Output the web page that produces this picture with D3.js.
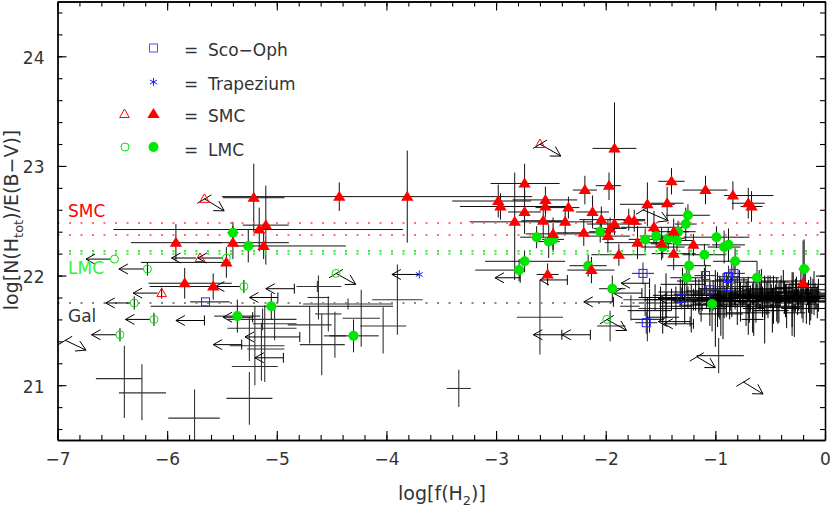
<!DOCTYPE html>
<html><head><meta charset="utf-8">
<script src="https://cdn.jsdelivr.net/npm/d3@7"></script>
<style>body{margin:0;background:#fff}svg{display:block}text{font-family:"DejaVu Sans",sans-serif}</style>
</head><body><svg id="c" width="830" height="511"></svg>
<script>
// ---------- data ----------
const xDomain = [-7, 0];
const yDomain = [20.5, 24.5];
const xTicks = [-7, -6, -5, -4, -3, -2, -1, 0];
const yTicks = [21, 22, 23, 24];
const refSMC = [22.48, 22.37];
const refLMC = [22.225, 22.20];
const refGal = [21.75];

// detections: [x, y, exMinus, exPlus, eyMinus, eyPlus]
const smcDet = [
  [-5.21,22.71,0.28,0.28,0.31,0.31],[-4.43,22.72,0,0,0.13,0.13],[-3.81,22.72,1.69,1.14,0.42,0.42],
  [-5.16,22.42,1.33,1.31,0.20,0.20],[-5.10,22.46,0.21,0.21,0.36,0.36],[-5.12,22.27,0.28,0.75,0.12,0.12],
  [-5.92,22.30,0.41,0.42,0.17,0.17],[-5.40,22.30,0.31,0.51,0.15,0.15],[-5.46,22.12,0.78,0.04,0.14,0.14],
  [-5.84,21.93,0.33,0.43,0.14,0.14],[-5.58,21.90,0.58,0.16,0.12,0.12],
  [-1.92,23.16,0.20,0.20,0.71,0.42],[-1.97,22.82,0.12,0.11,0.13,0.12],[-2.19,22.78,0.11,0.11,0.13,0.13],
  [-2.74,22.84,0.31,0.32,0.16,0.18],[-2.98,22.68,0.42,0.30,0.15,0.15],[-2.96,22.63,0.37,0.28,0.12,0.12],
  [-2.55,22.69,0.30,0.29,0.12,0.12],[-2.55,22.63,0.20,0.20,0.10,0.10],[-2.34,22.62,0.30,0.10,0.10,0.10],
  [-2.74,22.58,0.15,0.15,0.20,0.20],[-2.83,22.49,0.41,0.43,0.53,0.45],[-2.57,22.50,0.20,0.20,0.15,0.15],
  [-2.37,22.49,0.25,0.25,0.12,0.12],[-2.12,22.58,0.15,0.15,0.15,0.15],[-2.04,22.51,0.20,0.20,0.12,0.12],
  [-1.92,22.47,0.25,0.25,0.10,0.10],[-1.79,22.51,0.15,0.15,0.10,0.10],[-1.74,22.50,0.10,0.10,0.10,0.10],
  [-1.62,22.65,0.25,0.25,0.20,0.20],[-1.56,22.44,0.30,0.30,0.15,0.15],[-2.48,22.38,0.25,0.25,0.15,0.15],
  [-2.20,22.39,0.25,0.25,0.12,0.12],[-1.98,22.36,0.20,0.20,0.15,0.15],[-1.96,22.43,0.15,0.15,0.10,0.10],
  [-1.71,22.30,0.30,0.30,0.15,0.15],[-1.88,22.19,0.25,0.25,0.10,0.10],[-2.53,22.01,0.10,0.10,0.10,0.10],
  [-2.13,22.05,0.22,0.21,0.12,0.12],[-1.40,22.86,0.12,0.12,0.12,0.12],[-1.09,22.78,0.21,0.20,0.13,0.13],
  [-0.84,22.73,0.08,0.37,0.13,0.13],[-0.70,22.66,0.15,0.15,0.14,0.14],[-0.67,22.63,0.10,0.10,0.14,0.14],
  [-1.44,22.66,0.15,0.15,0.15,0.15],[-1.38,22.40,0.20,0.20,0.12,0.12],[-1.49,22.29,0.10,0.10,0.15,0.15],
  [-1.20,22.28,0.15,0.15,0.10,0.10],[-1.38,22.20,0.20,0.20,0.15,0.15],[-0.20,21.93,0.05,0.05,0.36,0.39]
];
const lmcDet = [
  [-5.40,22.39,0.05,0.05,0.10,0.10],[-5.26,22.27,0.05,0.05,0.15,0.15],[-5.05,21.72,1.10,1.11,0.12,0.12],
  [-5.36,21.63,0.21,0.21,0.15,0.15],[-4.30,21.45,0.22,0.23,0.15,0.15],[-2.48,22.33,0.10,0.10,0.10,0.10],
  [-2.63,22.35,0.15,0.15,0.10,0.10],[-2.52,22.31,0.10,0.10,0.15,0.15],[-2.74,22.13,0.36,0.37,0.10,0.10],
  [-2.79,22.05,0.40,0.05,0.10,0.10],[-2.16,22.09,0.17,0.17,0.10,0.10],[-2.05,22.40,0.10,0.10,0.10,0.10],
  [-1.64,22.33,0.15,0.15,0.10,0.10],[-1.54,22.36,0.15,0.15,0.10,0.10],[-1.25,22.55,0.20,0.20,0.10,0.10],
  [-1.27,22.47,0.10,0.10,0.15,0.15],[-1.43,22.34,0.15,0.15,0.10,0.10],[-1.35,22.32,0.15,0.15,0.10,0.10],
  [-1.34,22.40,0.10,0.10,0.10,0.10],[-1.48,22.26,0.20,0.20,0.10,0.10],[-0.99,22.35,0.30,0.30,0.10,0.10],
  [-0.92,22.26,0.15,0.15,0.15,0.15],[-0.88,22.28,0.15,0.15,0.15,0.15],[-1.10,22.19,0.20,0.20,0.10,0.10],
  [-1.24,22.09,0.20,0.20,0.15,0.15],[-0.82,22.13,0.20,0.20,0.12,0.12],[-1.26,21.98,0.15,0.15,0.15,0.15],
  [-0.62,21.98,0.20,0.20,0.15,0.15],[-0.19,22.06,0.05,0.05,0.10,0.27],[-1.03,21.74,0.15,0.15,0.25,0.10],
  [-1.94,21.88,0.12,0.12,0.12,0.12]
];
const scoOph = [
  [-5.65,21.76,0.14,0.22,0,0],[-1.66,22.02,0.10,0.10,0.10,0.10],[-1.63,21.57,0.10,0.10,0.10,0.10],
  [-1.31,21.79,0.15,0.15,0.10,0.10],[-1.09,22.00,0.10,0.10,0.10,0.10],[-0.83,22.02,0.10,0.10,0.10,0.10],
  [-0.88,21.99,0.10,0.10,0.10,0.10],[-1.05,21.87,0.10,0.10,0.10,0.10],[-0.89,21.90,0.10,0.10,0.10,0.10]
];
const galDet = [
  [-6.39,21.06,0.26,0.16,0.36,0.30],[-6.23,20.93,0.21,0.22,0.25,0.26],[-5.75,20.70,0.24,0.23,0.25,0.26],
  [-5.25,20.88,0.21,0.21,0.24,0.24],[-3.90,21.78,0.23,0.23,0.32,0.32],[-4.23,21.61,0.17,0.17,0.26,0.26],
  [-4.03,21.54,0.21,0.21,0.25,0.17],[-4.70,21.55,0.20,0.20,0.17,0.17],[-4.59,21.37,0.20,0.21,0.28,0.28],
  [-4.47,21.45,0.10,0.10,0.20,0.22],[-4.62,21.80,0.10,0.10,0.20,0.20],[-4.53,21.65,0.12,0.12,0.16,0.16],
  [-5.13,21.60,0.32,0.31,0.10,0.10],[-5.25,21.52,0.20,0.43,0.30,0.10],[-5.20,21.36,0.23,0.27,0.36,0.36],
  [-5.11,21.33,0.16,0.18,0.30,0.40],[-5.14,21.17,0.27,0.15,0.13,0.40],[-5.02,21.56,0.20,0.20,0.15,0.15],
  [-4.35,21.74,0.41,0.41,0.05,0.05],[-4.63,21.90,0.19,0.22,0.05,0.05],[-3.34,20.97,0.11,0.11,0.17,0.17],
  [-2.60,21.62,0.21,0.21,0.34,0.34],[-1.77,21.72,0.10,0.08,0.13,0.10],[-1.96,21.54,0.12,0.14,0.14,0.14],
  [-0.97,21.27,0.20,0.23,0.16,0.16],[-1.64,21.78,0.20,0.30,0.15,0.15],[-1.62,21.60,0.15,0.15,0.20,0.20],
  [-1.45,21.70,0.25,0.25,0.15,0.15]
];
// dense Galactic cluster: [x, y, ex, ey]
const galCluster = [
  [-1.55,21.80,0.15,0.12],[-1.50,21.75,0.2,0.15],[-1.45,21.82,0.12,0.2],[-1.40,21.78,0.25,0.1],
  [-1.36,21.72,0.15,0.18],[-1.32,21.85,0.2,0.12],[-1.28,21.76,0.1,0.2],[-1.25,21.80,0.3,0.1],
  [-1.22,21.70,0.15,0.22],[-1.18,21.83,0.2,0.15],[-1.15,21.77,0.25,0.12],[-1.12,21.86,0.15,0.18],
  [-1.08,21.80,0.3,0.1],[-1.05,21.74,0.1,0.2],[-1.02,21.82,0.2,0.14],[-0.98,21.78,0.15,0.25],
  [-0.95,21.88,0.2,0.1],[-0.92,21.76,0.3,0.15],[-0.90,21.82,0.12,0.2],[-0.87,21.72,0.2,0.12],
  [-0.85,21.80,0.25,0.18],[-0.82,21.85,0.15,0.12],[-0.80,21.77,0.2,0.22],[-0.78,21.90,0.1,0.15],
  [-0.75,21.81,0.3,0.1],[-0.72,21.74,0.15,0.2],[-0.70,21.84,0.2,0.15],[-0.68,21.79,0.25,0.12],
  [-0.65,21.70,0.1,0.25],[-0.62,21.82,0.2,0.1],[-0.60,21.87,0.15,0.18],[-0.57,21.76,0.25,0.14],
  [-0.55,21.80,0.3,0.2],[-0.52,21.73,0.12,0.12],[-0.50,21.85,0.2,0.15],[-0.47,21.78,0.15,0.22],
  [-0.45,21.82,0.25,0.1],[-0.42,21.75,0.2,0.18],[-0.40,21.88,0.1,0.12],[-0.37,21.80,0.3,0.15],
  [-0.35,21.72,0.15,0.2],[-0.32,21.84,0.2,0.1],[-0.30,21.78,0.25,0.25],[-0.27,21.82,0.12,0.15],
  [-0.25,21.76,0.2,0.12],[-0.22,21.86,0.15,0.2],[-0.20,21.79,0.3,0.1],[-0.17,21.74,0.1,0.18],
  [-0.15,21.81,0.2,0.15],[-0.12,21.77,0.15,0.12],[-0.10,21.84,0.1,0.2],[-0.08,21.79,0.12,0.1],
  [-0.06,21.82,0.08,0.15],[-1.60,21.68,0.2,0.2],[-1.48,21.62,0.15,0.15],[-1.30,21.92,0.2,0.15],
  [-1.10,21.95,0.25,0.12],[-0.95,21.65,0.2,0.2],[-0.85,21.96,0.15,0.15],[-0.70,21.66,0.2,0.2],
  [-0.58,21.94,0.25,0.12],[-0.48,21.68,0.15,0.2],[-0.38,21.95,0.2,0.1],[-0.28,21.66,0.1,0.22],
  [-0.18,21.92,0.2,0.15],[-0.66,21.60,0.1,0.12],[-1.00,21.70,0.1,0.35],[-0.93,21.72,0.1,0.3],
  [-0.55,21.68,0.1,0.3],[-0.30,21.70,0.1,0.25],
  [-1.20,21.78,0.25,0.1],[-1.15,21.82,0.2,0.15],[-1.05,21.79,0.3,0.12],[-1.00,21.84,0.2,0.1],
  [-0.96,21.80,0.25,0.2],[-0.90,21.77,0.3,0.12],[-0.86,21.83,0.2,0.15],[-0.82,21.79,0.25,0.1],
  [-0.77,21.76,0.2,0.18],[-0.74,21.86,0.3,0.12],[-0.71,21.80,0.2,0.15],[-0.66,21.83,0.25,0.1],
  [-0.63,21.77,0.3,0.2],[-0.59,21.81,0.2,0.12],[-0.53,21.79,0.25,0.15],[-0.49,21.82,0.3,0.1],
  [-0.44,21.78,0.2,0.2],[-0.41,21.84,0.25,0.12],[-0.36,21.77,0.3,0.15],[-0.33,21.81,0.2,0.1],
  [-0.29,21.85,0.25,0.18],[-0.24,21.80,0.2,0.12],[-0.21,21.76,0.25,0.15],[-0.16,21.83,0.2,0.1],
  [-0.13,21.79,0.15,0.2],[-0.09,21.81,0.12,0.12],[-0.07,21.76,0.1,0.15],[-0.11,21.87,0.12,0.1],
  [-0.26,21.89,0.2,0.1],[-0.52,21.88,0.2,0.12],[-0.69,21.72,0.2,0.15],[-0.97,21.74,0.25,0.12],
  [-1.13,21.73,0.2,0.15],[-0.43,21.71,0.2,0.15],[-0.14,21.70,0.15,0.15]
];
// limits pointing left: [x, y, length, eyBar]
const lmcLimLeft = [[-6.48,22.15,0.26,0],[-6.18,22.06,0.26,0.06],[-6.30,21.75,0.26,0.06],[-6.12,21.60,0.26,0.06],
  [-6.43,21.46,0.26,0.06],[-5.30,21.90,0.26,0.06],[-5.46,22.16,0.26,0]];
const smcLimLeft = [[-5.70,22.16,0.26,0],[-6.05,21.84,0.26,0.05]];
const galLimLeft = [[-4.79,21.44,0.50],[-4.94,21.25,0.26],[-5.32,21.37,0.26],[-5.66,21.59,0.26],[-5.22,21.62,0.27],
  [-4.84,21.88,0.26],[-4.99,21.80,0.26],[-2.35,21.96,0.25],[-2.40,21.46,0.26],[-2.14,21.46,0.26],[-2.78,21.98,0.23],
  [-1.93,21.76,0.27],[-1.60,21.93,0.26],[-1.67,21.84,0.26],[-1.23,21.58,0.29],[-1.20,21.56,0.27],[-1.28,21.79,0.24]];
const trapezium = [[-3.70,22.01,0.25]];
// diagonal limits: [x, y, dx, dy]
const smcLimDiag = [[-5.66,22.70,0.18,-0.11],[-2.60,23.20,0.19,-0.11]];
const lmcLimDiag = [[-4.46,22.02,0.18,-0.10],[-1.99,21.60,0.18,-0.10]];
const galLimDiag = [[-1.66,22.60,0.23,-0.10],[-1.17,21.26,0.17,-0.10],[-0.745,21.03,0.18,-0.11],[-6.93,21.41,0.19,-0.09]];

// ---------- drawing ----------
const RED = "#ff0000", GREEN = "#00e600", BLUE = "#2020ff", TXT = "#333";
const svg = d3.select("#c");
const X = d3.scaleLinear().domain(xDomain).range([57.5, 825]);
const Y = d3.scaleLinear().domain(yDomain).range([440, 1.5]);

svg.append("clipPath").attr("id", "clip").append("rect")
  .attr("x", X(-7)).attr("y", Y(24.5)).attr("width", X(0) - X(-7)).attr("height", Y(20.5) - Y(24.5));
const plot = svg.append("g").attr("clip-path", "url(#clip)");

function errBars(g, data, color, w) {
  const gg = g.append("g").attr("stroke", color).attr("stroke-width", w).attr("fill", "none");
  gg.selectAll("line.h").data(data.filter(d => d[2] || d[3])).join("line")
    .attr("x1", d => X(d[0] - d[2])).attr("x2", d => X(d[0] + d[3]))
    .attr("y1", d => Y(d[1])).attr("y2", d => Y(d[1]));
  gg.selectAll("line.v").data(data.filter(d => d[4] || d[5])).join("line")
    .attr("x1", d => X(d[0])).attr("x2", d => X(d[0]))
    .attr("y1", d => Y(d[1] - d[4])).attr("y2", d => Y(d[1] + d[5]));
}
function leftArrows(g, data, gap, bar) {
  const gg = g.append("g").attr("stroke", "#000").attr("stroke-width", 1).attr("fill", "none");
  data.forEach(d => {
    const x0 = X(d[0]) - gap, x1 = X(d[0] - d[2]), yy = Y(d[1]);
    gg.append("line").attr("x1", x0).attr("x2", x1).attr("y1", yy).attr("y2", yy);
    gg.append("path").attr("d", `M${x1 + 9},${yy - 5}L${x1},${yy}L${x1 + 9},${yy + 5}`);
    if (bar) gg.append("line").attr("x1", X(d[0])).attr("x2", X(d[0])).attr("y1", yy - 5).attr("y2", yy + 5);
    if (d[3]) gg.append("line").attr("x1", X(d[0])).attr("x2", X(d[0])).attr("y1", Y(d[1] - d[3])).attr("y2", Y(d[1] + d[3]));
  });
}
function diagArrows(g, data) {
  const gg = g.append("g").attr("stroke", "#000").attr("stroke-width", 1).attr("fill", "none");
  data.forEach(d => {
    const x0 = X(d[0]), y0 = Y(d[1]), x1 = X(d[0] + d[2]), y1 = Y(d[1] + d[3]);
    const a = Math.atan2(y1 - y0, x1 - x0), L = 11, h = Math.PI / 6;
    gg.append("line").attr("x1", x0).attr("y1", y0).attr("x2", x1).attr("y2", y1);
    gg.append("path").attr("d",
      `M${x1 - L * Math.cos(a - h)},${y1 - L * Math.sin(a - h)}L${x1},${y1}L${x1 - L * Math.cos(a + h)},${y1 - L * Math.sin(a + h)}`);
    gg.append("line").attr("x1", x0 - 7).attr("y1", y0 + 4.5).attr("x2", x0 + 7).attr("y2", y0 - 4);
  });
}

// error bars
errBars(plot, galDet, "#333", 1.1);
errBars(plot, galCluster.map(d => [d[0], d[1], d[2], d[2], d[3], d[3]]), "#000", 1);
errBars(plot, scoOph, "#333", 1.1);
errBars(plot, lmcDet, "#111", 1);
errBars(plot, smcDet, "#111", 1);

// reference dotted lines
const refs = [].concat(refSMC.map(v => [v, "#ff7070"]), refLMC.map(v => [v, "#30f030"]), refGal.map(v => [v, "#888"]));
plot.selectAll("line.ref").data(refs).join("line")
  .attr("x1", X(-7)).attr("x2", X(0)).attr("y1", d => Y(d[0])).attr("y2", d => Y(d[0]))
  .attr("stroke", d => d[1]).attr("stroke-width", 2).attr("stroke-dasharray", "2,9.5");

// arrows
leftArrows(plot, galLimLeft, 0, true);
leftArrows(plot, lmcLimLeft, 4, false);
leftArrows(plot, smcLimLeft, 4, false);
leftArrows(plot, trapezium, 0, false);
diagArrows(plot, galLimDiag);
diagArrows(plot, lmcLimDiag);
diagArrows(plot, smcLimDiag);

// markers
const triF = "M0,-6L6.2,4L-6.2,4Z", triO = "M0,-5L4.8,3.5L-4.8,3.5Z";
plot.selectAll("circle.lf").data(lmcDet).join("circle")
  .attr("cx", d => X(d[0])).attr("cy", d => Y(d[1])).attr("r", 5).attr("fill", GREEN);
plot.selectAll("circle.lo").data(lmcLimLeft.concat(lmcLimDiag)).join("circle")
  .attr("cx", d => X(d[0])).attr("cy", d => Y(d[1])).attr("r", 4).attr("fill", "none").attr("stroke", GREEN).attr("stroke-width", 1);
plot.selectAll("path.sf").data(smcDet).join("path")
  .attr("transform", d => `translate(${X(d[0])},${Y(d[1])})`).attr("d", triF).attr("fill", RED);
plot.selectAll("path.so").data(smcLimLeft.concat(smcLimDiag)).join("path")
  .attr("transform", d => `translate(${X(d[0])},${Y(d[1])})`).attr("d", triO).attr("fill", "none").attr("stroke", RED).attr("stroke-width", 1);
plot.selectAll("rect.sq").data(scoOph).join("rect")
  .attr("x", d => X(d[0]) - 4).attr("y", d => Y(d[1]) - 4).attr("width", 8).attr("height", 8)
  .attr("fill", "none").attr("stroke", BLUE).attr("stroke-width", 1);
function asterisk(g, cx, cy) {
  const gg = g.append("g").attr("stroke", BLUE).attr("stroke-width", 1);
  gg.append("line").attr("x1", cx).attr("x2", cx).attr("y1", cy - 4).attr("y2", cy + 4);
  gg.append("line").attr("x1", cx - 3.5).attr("x2", cx + 3.5).attr("y1", cy - 2).attr("y2", cy + 2);
  gg.append("line").attr("x1", cx - 3.5).attr("x2", cx + 3.5).attr("y1", cy + 2).attr("y2", cy - 2);
}
trapezium.forEach(d => asterisk(plot, X(d[0]), Y(d[1])));

// axes (ticks inward)
const minorX = d3.range(-7, 0.001, 0.2).map(v => +v.toFixed(2));
const minorY = d3.range(20.6, 24.5, 0.2).map(v => +v.toFixed(2));
function addAxis(axisFn, scale, pos, major, minor, labels) {
  const gMin = svg.append("g").attr("transform", pos)
    .call(axisFn(scale).tickValues(minor).tickSize(-5).tickSizeOuter(0).tickFormat(""));
  const gMaj = svg.append("g").attr("transform", pos)
    .call(axisFn(scale).tickValues(major).tickSize(-9).tickSizeOuter(0)
      .tickPadding(labels ? 13 : 0).tickFormat(labels ? (d => d3.format("d")(d).replace("-", "\u2212")) : ""));
  [gMin, gMaj].forEach(g => { g.selectAll("line").attr("stroke", "#000").attr("stroke-width", 1.1); g.select(".domain").attr("stroke", "#000").attr("stroke-width", 1.3); });
  gMaj.selectAll("text").attr("font-family", "DejaVu Sans").attr("font-size", 17).attr("fill", TXT);
  return gMaj;
}
addAxis(d3.axisBottom, X, `translate(0,${Y(20.5)})`, xTicks, minorX, true);
addAxis(d3.axisTop, X, `translate(0,${Y(24.5)})`, xTicks, minorX, false);
const yl = addAxis(d3.axisLeft, Y, `translate(${X(-7)},0)`, yTicks, minorY, true);
yl.selectAll("text").attr("dy", "0.4em");
addAxis(d3.axisRight, Y, `translate(${X(0)},0)`, yTicks, minorY, false);

// axis titles
const xt = svg.append("text").attr("x", 442).attr("y", 500).attr("text-anchor", "middle")
  .attr("font-size", 19).attr("fill", TXT);
xt.append("tspan").text("log[f(H");
xt.append("tspan").attr("font-size", 13).attr("dy", 5).text("2");
xt.append("tspan").attr("dy", -5).text(")]");
const yt = svg.append("text").attr("transform", "translate(18,220) rotate(-90)").attr("text-anchor", "middle")
  .attr("font-size", 19).attr("fill", TXT);
yt.append("tspan").text("log[N(H");
yt.append("tspan").attr("font-size", 13).attr("dy", 5).text("tot");
yt.append("tspan").attr("dy", -5).text(")/E(B\u2212V)]");

// side labels
svg.append("text").attr("x", 68).attr("y", 217).attr("font-size", 17).attr("fill", RED).text("SMC");
svg.append("text").attr("x", 68).attr("y", 274).attr("font-size", 17).attr("fill", "#30f030").text("LMC");
svg.append("text").attr("x", 68).attr("y", 322).attr("font-size", 17).attr("fill", TXT).text("Gal");

// legend
const legend = [
  {label: "Sco\u2212Oph", y: 56, sym: 48},
  {label: "Trapezium", y: 90, sym: 82},
  {label: "SMC", y: 122, sym: 114},
  {label: "LMC", y: 156, sym: 147}
];
const lg = svg.append("g");
legend.forEach(d => {
  lg.append("text").attr("x", 184).attr("y", d.y).attr("font-size", 17).attr("fill", TXT).text("=");
  lg.append("text").attr("x", 208).attr("y", d.y).attr("font-size", 17).attr("fill", TXT).text(d.label);
});
lg.append("rect").attr("x", 149.5).attr("y", legend[0].sym - 4).attr("width", 8).attr("height", 8)
  .attr("fill", "none").attr("stroke", "#5050ff").attr("stroke-width", 1);
asterisk(lg, 153.5, legend[1].sym);
lg.append("path").attr("transform", `translate(124.5,${legend[2].sym})`).attr("d", triO).attr("fill", "none").attr("stroke", RED);
lg.append("path").attr("transform", `translate(153.5,${legend[2].sym})`).attr("d", triF).attr("fill", RED);
lg.append("circle").attr("cx", 125).attr("cy", legend[3].sym).attr("r", 4).attr("fill", "none").attr("stroke", GREEN);
lg.append("circle").attr("cx", 153.5).attr("cy", legend[3].sym).attr("r", 5).attr("fill", GREEN);
</script></body></html>
